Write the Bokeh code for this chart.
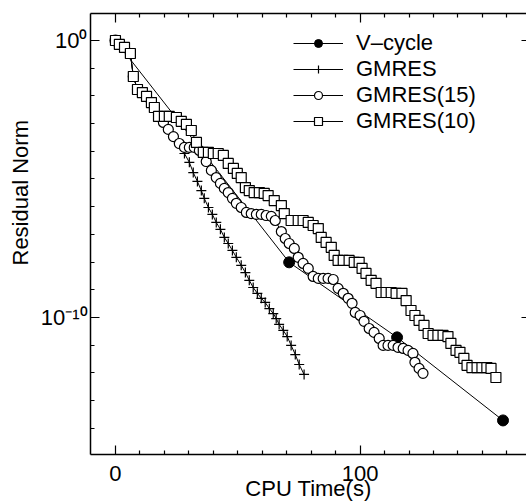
from bokeh.plotting import figure
from bokeh.models import (FixedTicker, CustomJSTickFormatter, LinearAxis, LogAxis,
                          Legend, LegendItem, Title)
from bokeh.embed import file_html
from bokeh.resources import INLINE

# ---------------- data (CPU time in s, log10 of residual norm) ----------------
vcycle_time = [0.0, 71.0, 115.1, 158.4]
vcycle_log = [0.0, -8.01, -10.72, -13.72]

gmres_time = [0.0, 1.6, 3.7, 6.1, 7.3, 9.0, 11.0, 12.7, 14.7, 15.9, 17.6, 19.6, 21.6, 23.7, 26.1,
              28.2, 30.2, 31.8, 33.5, 35.1, 36.3, 38.0, 39.6, 41.2, 42.9, 44.5, 46.1, 47.8, 49.4,
              51.4, 53.1, 54.7, 56.3, 58.0, 59.6, 61.2, 62.9, 64.5, 65.7, 66.9, 68.6, 70.2, 71.8,
              73.5, 75.1, 77.1]
gmres_log = [0.0, -0.14, -0.25, -0.47, -1.30, -1.77, -1.88, -2.02, -2.24, -2.42, -2.74, -2.96, -3.21,
             -3.47, -3.72, -4.08, -4.40, -4.77, -5.09, -5.42, -5.70, -6.03, -6.28, -6.57, -6.82,
             -7.11, -7.33, -7.58, -7.83, -8.12, -8.38, -8.66, -8.92, -9.13, -9.31, -9.46, -9.68,
             -9.86, -10.04, -10.25, -10.47, -10.69, -11.01, -11.34, -11.70, -12.06]

gmres15_time = [0.0, 1.6, 3.7, 6.1, 7.3, 9.0, 11.0, 12.7, 14.7, 15.9, 17.6, 19.6, 21.6, 23.7, 26.1,
                28.2, 30.2, 32.2, 34.3, 37.1, 39.2, 41.2, 42.9, 44.5, 46.1, 47.8, 49.4, 51.4, 53.5,
                55.5, 57.6, 59.6, 61.6, 63.7, 65.3, 67.8, 69.4, 71.0, 73.1, 74.7, 76.7, 78.8, 80.8,
                82.9, 84.9, 86.9, 89.0, 91.0, 93.1, 95.1, 96.7, 98.0, 100.0, 101.6, 103.7, 105.7,
                107.8, 109.4, 111.4, 113.5, 115.5, 117.6, 119.6, 121.6, 122.4, 124.1, 125.7]
gmres15_log = [0.0, -0.14, -0.25, -0.47, -1.30, -1.77, -1.88, -2.02, -2.24, -2.42, -2.74, -2.96, -3.21,
               -3.47, -3.72, -3.86, -3.86, -3.86, -3.97, -4.37, -4.69, -4.95, -5.16, -5.34, -5.49,
               -5.70, -5.88, -6.03, -6.21, -6.25, -6.28, -6.28, -6.32, -6.35, -6.50, -6.90, -7.15,
               -7.33, -7.51, -7.83, -8.05, -8.23, -8.52, -8.59, -8.59, -8.59, -8.63, -8.95, -9.13,
               -9.31, -9.49, -9.82, -9.93, -10.14, -10.40, -10.54, -10.76, -11.01, -11.01, -11.01,
               -11.08, -11.12, -11.19, -11.30, -11.62, -11.84, -12.02]

gmres10_time = [0.0, 1.6, 3.7, 6.1, 7.3, 9.0, 11.0, 12.7, 14.7, 15.9, 17.6, 20.0, 22.0, 24.9, 26.9,
                29.0, 31.0, 33.1, 35.9, 38.0, 40.0, 42.0, 44.1, 46.1, 48.2, 49.8, 51.4, 53.1, 54.7,
                56.7, 58.8, 60.8, 62.4, 64.9, 67.8, 69.0, 71.8, 74.7, 76.7, 78.8, 80.8, 82.9, 84.1,
                86.1, 88.2, 89.4, 91.0, 93.1, 95.5, 97.6, 99.6, 100.8, 102.4, 104.5, 106.5, 108.6,
                110.6, 112.7, 114.7, 117.1, 118.8, 120.8, 122.4, 124.1, 126.1, 127.8, 129.8, 131.8,
                133.9, 135.9, 137.1, 139.2, 140.8, 142.4, 143.7, 145.7, 147.8, 149.8, 151.8, 153.5,
                155.5]
gmres10_log = [0.0, -0.14, -0.25, -0.47, -1.30, -1.77, -1.88, -2.02, -2.24, -2.42, -2.74, -2.74, -2.74,
               -2.78, -2.92, -3.03, -3.25, -3.68, -4.04, -4.04, -4.08, -4.08, -4.15, -4.44, -4.62,
               -4.80, -4.95, -5.31, -5.42, -5.49, -5.49, -5.52, -5.60, -5.78, -5.96, -6.25, -6.50,
               -6.50, -6.50, -6.57, -6.68, -6.79, -7.11, -7.29, -7.47, -7.76, -7.94, -7.94, -7.94,
               -8.01, -8.01, -8.23, -8.41, -8.66, -8.77, -9.10, -9.10, -9.10, -9.13, -9.13, -9.39,
               -9.75, -9.93, -10.11, -10.29, -10.58, -10.65, -10.65, -10.65, -10.69, -10.94, -11.19,
               -11.26, -11.48, -11.73, -11.81, -11.81, -11.81, -11.81, -11.84, -12.17]

series_labels = ["V\u2013cycle", "GMRES", "GMRES(15)", "GMRES(10)"]

x_ticks = [0, 100]
x_minor_ticks = [10, 20, 30, 40, 50, 60, 70, 80, 90, 110, 120, 130, 140, 150, 160]
y_ticks = [1e-10, 1e0]
y_minor_ticks = [1e-14, 1e-13, 1e-12, 1e-11, 1e-9, 1e-8, 1e-7, 1e-6, 1e-5, 1e-4, 1e-3, 1e-2, 1e-1]


def to_res(logs):
    return [10.0 ** v for v in logs]


FONT = "Liberation Sans"
FS = "22px"

p = figure(width=526, height=504, x_range=(-10.2, 168.0), y_range=(10 ** -14.95, 10 ** 0.975),
           y_axis_type="log", output_backend="svg", toolbar_location=None,
           min_border_left=89, min_border_right=0, min_border_top=13, min_border_bottom=50,
           background_fill_color="white", border_fill_color="white")
p.grid.visible = False
p.outline_line_color = None


def style_axis(ax):
    ax.axis_line_color = "black"
    ax.axis_line_width = 1.5
    ax.major_tick_line_color = "black"
    ax.major_tick_line_width = 1.2
    ax.minor_tick_line_color = "black"
    ax.minor_tick_line_width = 1.2
    ax.major_tick_in = 9
    ax.major_tick_out = 0
    ax.minor_tick_in = 4
    ax.minor_tick_out = 0
    ax.major_label_text_font = FONT
    ax.major_label_text_font_size = FS
    ax.major_label_text_color = "black"
    ax.axis_label_text_font = FONT
    ax.axis_label_text_font_size = FS
    ax.axis_label_text_font_style = "normal"
    ax.axis_label_text_color = "black"


xt = FixedTicker(ticks=x_ticks, minor_ticks=x_minor_ticks)
yt = FixedTicker(ticks=y_ticks, minor_ticks=y_minor_ticks)
blank = CustomJSTickFormatter(code="return '';")

xa = p.xaxis[0]
style_axis(xa)
xa.ticker = xt
xa.axis_label = "CPU Time(s)"
xa.major_label_standoff = 11
xa.axis_label_standoff = -8

ya = p.yaxis[0]
style_axis(ya)
ya.ticker = yt
ya.formatter = CustomJSTickFormatter(
    code="return (tick > 0.5) ? '10\\u2070' : '10\\u207b\\u00b9\\u2070';")
ya.major_label_standoff = 3

top = LinearAxis(ticker=xt, formatter=blank)
style_axis(top)
top.major_label_standoff = 0
top.major_label_text_font_size = "0px"
p.add_layout(top, "above")

right = LogAxis(ticker=yt, formatter=blank)
style_axis(right)
right.axis_line_color = None
right.major_tick_in = 5
right.minor_tick_in = 0
right.major_label_standoff = 0
right.major_label_text_font_size = "0px"
p.add_layout(right, "right")

ytitle = Title(text="Residual Norm", align="left", offset=189, text_font=FONT,
               text_font_size=FS, text_font_style="normal", text_color="black")
p.add_layout(ytitle, "left")

# ---------------- series ----------------
v_line = p.line(vcycle_time, to_res(vcycle_log), line_color="black", line_width=1)
v_mark = p.scatter(vcycle_time, to_res(vcycle_log), marker="circle", size=11,
                   fill_color="black", line_color="black")

g_line = p.line(gmres_time, to_res(gmres_log), line_color="black", line_width=1)
g_mark = p.scatter(gmres_time, to_res(gmres_log), marker="cross", size=10,
                   line_color="black", line_width=1.2)

g15_line = p.line(gmres15_time, to_res(gmres15_log), line_color="black", line_width=1)
g15_mark = p.scatter(gmres15_time, to_res(gmres15_log), marker="circle", size=10,
                     fill_color="white", line_color="black", line_width=1.2)

g10_line = p.line(gmres10_time, to_res(gmres10_log), line_color="black", line_width=1)
g10_mark = p.scatter(gmres10_time, to_res(gmres10_log), marker="square", size=10,
                     fill_color="white", line_color="black", line_width=1.2)

legend = Legend(items=[
    LegendItem(label=series_labels[0], renderers=[v_line, v_mark]),
    LegendItem(label=series_labels[1], renderers=[g_line, g_mark]),
    LegendItem(label=series_labels[2], renderers=[g15_line, g15_mark]),
    LegendItem(label=series_labels[3], renderers=[g10_line, g10_mark]),
], location=(203, 320), glyph_width=50, glyph_height=20, label_standoff=13, spacing=-3,
    padding=5, margin=0, border_line_color=None, background_fill_alpha=0,
    label_text_font=FONT, label_text_font_size=FS, label_text_color="black")
p.add_layout(legend)

open("out.html", "w", encoding="utf-8").write(file_html(p, INLINE))
